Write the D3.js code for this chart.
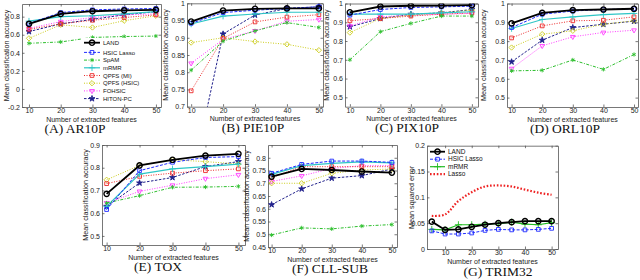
<!DOCTYPE html>
<html>
<head>
<meta charset="utf-8">
<script src="https://cdn.jsdelivr.net/npm/d3@7"></script>
<style>
  body { margin: 0; background: #fff; }
</style>
</head>
<body>
<div id="chart"></div>
<script>
// x values
const features = [10, 20, 30, 40, 50];
const trimFeatures = [5, 10, 15, 20, 25, 30, 35, 40, 45, 50];

const methods = ["LAND", "HSIC Lasso", "SpAM", "mRMR", "QPFS (MI)", "QPFS (HSIC)", "FOHSIC", "HITON-PC"];
const trimMethods = ["LAND", "HSIC Lasso", "mRMR", "Lasso"];

// mean classification accuracy, one row per method (same order as methods)
const ar10p = [
  [0.72, 0.83, 0.86, 0.87, 0.875],
  [0.725, 0.845, 0.875, 0.885, 0.89],
  [0.505, 0.52, 0.57, 0.58, 0.585],
  [0.75, 0.80, 0.81, 0.83, 0.855],
  [0.66, 0.72, 0.76, 0.79, 0.82],
  [0.56, 0.71, 0.68, 0.755, 0.81],
  [0.67, 0.745, 0.79, 0.82, 0.83],
  [0.635, 0.72, 0.77, 0.82, 0.855]
];
const pie10p = [
  [0.947, 0.979, 0.984, 0.985, 0.985],
  [0.942, 0.973, 0.98, 0.985, 0.99],
  [0.806, 0.89, 0.92, 0.944, 0.93],
  [0.94, 0.963, 0.969, 0.974, 0.974],
  [0.746, 0.898, 0.946, 0.96, 0.967],
  [0.886, 0.90, 0.889, 0.881, 0.864],
  [0.826, 0.895, 0.92, 0.948, 0.953],
  [0.48, 0.911, 0.966, 0.985, 0.99]
];
const pix10p = [
  [0.953, 0.984, 0.988, 0.989, 0.991],
  [0.938, 0.968, 0.979, 0.982, 0.986],
  [0.70, 0.85, 0.894, 0.933, 0.933],
  [0.943, 0.943, 0.943, 0.95, 0.956],
  [0.908, 0.92, 0.933, 0.943, 0.95],
  [0.845, 0.92, 0.938, 0.95, 0.965],
  [0.88, 0.929, 0.938, 0.943, 0.947],
  [0.876, 0.92, 0.943, 0.95, 0.968]
];
const orl10p = [
  [0.894, 0.95, 0.965, 0.968, 0.972],
  [0.872, 0.943, 0.96, 0.968, 0.972],
  [0.642, 0.645, 0.70, 0.65, 0.729],
  [0.867, 0.915, 0.929, 0.941, 0.947],
  [0.817, 0.881, 0.908, 0.911, 0.929],
  [0.766, 0.837, 0.855, 0.89, 0.908],
  [0.654, 0.775, 0.823, 0.846, 0.858],
  [0.69, 0.805, 0.872, 0.89, 0.906]
];
const tox = [
  [0.685, 0.81, 0.835, 0.853, 0.861],
  [0.616, 0.787, 0.824, 0.845, 0.849],
  [0.645, 0.677, 0.714, 0.715, 0.718],
  [0.63, 0.772, 0.795, 0.805, 0.816],
  [0.73, 0.762, 0.776, 0.787, 0.795],
  [0.747, 0.81, 0.835, 0.827, 0.816],
  [0.645, 0.696, 0.723, 0.752, 0.769],
  [0.63, 0.733, 0.757, 0.805, 0.827]
];
const cllSub = [
  [0.726, 0.756, 0.752, 0.746, 0.742],
  [0.739, 0.774, 0.787, 0.787, 0.782],
  [0.497, 0.525, 0.521, 0.532, 0.538],
  [0.735, 0.769, 0.778, 0.784, 0.78],
  [0.722, 0.765, 0.765, 0.765, 0.765],
  [0.70, 0.70, 0.739, 0.752, 0.756],
  [0.707, 0.729, 0.758, 0.769, 0.769],
  [0.616, 0.678, 0.72, 0.73, 0.756]
];
// mean squared error on TRIM32, one row per trimMethods entry
const trim32 = [
  [0.053, 0.037, 0.038, 0.043, 0.047, 0.05, 0.052, 0.054, 0.054, 0.054],
  [0.035, 0.029, 0.029, 0.031, 0.036, 0.038, 0.037, 0.037, 0.038, 0.04],
  [0.038, 0.037, 0.047, 0.047, 0.048, 0.049, 0.052, 0.048, 0.047, 0.051],
  [0.064, 0.067, 0.093, 0.11, 0.121, 0.123, 0.121, 0.115, 0.109, 0.105]
];

// tick labels
const xTicks = [10, 20, 30, 40, 50];
const arTicks = [-0.2, 0, 0.2, 0.4, 0.6, 0.8];
const pieTicks = [0.7, 0.75, 0.8, 0.85, 0.9, 0.95, 1];
const pixTicks = [0.5, 0.6, 0.7, 0.8, 0.9, 1];
const toxTicks = [0.5, 0.6, 0.7, 0.8, 0.9];
const cllTicks = [0.45, 0.5, 0.55, 0.6, 0.65, 0.7, 0.75, 0.8];
const trimTicks = [0, 0.05, 0.1, 0.15, 0.2];

// line styles per method name
const styles = {
  "LAND":        {color: "#000000", width: 1.8, dash: null,          sym: d3.symbolCircle,   fill: "none", size: 22},
  "HSIC Lasso":  {color: "#1f2bff", width: 1,   dash: "3,1.5",       sym: d3.symbolSquare,   fill: "none", size: 14},
  "SpAM":        {color: "#2dbf2d", width: 1,   dash: "3,1.5,1,1.5", sym: d3.symbolAsterisk, fill: "none", size: 12},
  "mRMR":        {color: "#2ec6c6", width: 1.2, dash: null,          sym: d3.symbolPlus,     fill: "none", size: 16},
  "QPFS (MI)":   {color: "#ec2a2a", width: 1,   dash: "1,1.5",       sym: d3.symbolSquare,   fill: "none", size: 14},
  "QPFS (HSIC)": {color: "#cccc1c", width: 1,   dash: "1,1.5",       sym: d3.symbolDiamond2, fill: "none", size: 18},
  "FOHSIC":      {color: "#ff3cff", width: 1,   dash: "1,1.5",       sym: d3.symbolTriangle2, fill: "none", size: 16, flip: true},
  "HITON-PC":    {color: "#22228c", width: 1,   dash: "2.5,1.5",     sym: d3.symbolStar,     fill: "#22228c", size: 11},
  "Lasso":       {color: "#ee2222", width: 2.2, dash: "1.6,1.8",     sym: null}
};
const trimStyles = {
  "mRMR": {color: "#22bb22", width: 1.2, dash: null, sym: d3.symbolPlus, fill: "none", size: 18}
};

const sansFont = "'Liberation Sans', Arial, sans-serif";
const serifFont = "'Liberation Serif', 'Times New Roman', serif";

const width = 640, height = 280;
const svg = d3.select("#chart").append("svg")
  .attr("width", width)
  .attr("height", height)
  .style("font-family", sansFont);

const panels = [
  {title: "(A) AR10P",   rows: ar10p,  names: methods, xs: features, left: 22,  right: 161, top: 4,     bottom: 107,   xDom: [7.8, 51.6], yDom: [-0.2, 0.94], yTicks: arTicks,  titleX: 75,  ylabX: 6,   ylab: "Mean classification accuracy", legend: true},
  {title: "(B) PIE10P",  rows: pie10p, names: methods, xs: features, left: 187, right: 323, top: 3.3,   bottom: 106.7, xDom: [8.7, 51.3], yDom: [0.7, 1],     yTicks: pieTicks, titleX: 253, ylabX: 165, ylab: "Mean classification accuracy"},
  {title: "(C) PIX10P",  rows: pix10p, names: methods, xs: features, left: 345, right: 478, top: 3.5,   bottom: 106.7, xDom: [8.4, 52],   yDom: [0.45, 1],    yTicks: pixTicks, titleX: 407, ylabX: 326, ylab: "Mean classification accuracy"},
  {title: "(D) ORL10P",  rows: orl10p, names: methods, xs: features, left: 507, right: 638, top: 3.5,   bottom: 107,   xDom: [8.5, 51.3], yDom: [0.45, 1],    yTicks: pixTicks, titleX: 565, ylabX: 483, ylab: "Mean classification accuracy"},
  {title: "(E) TOX",     rows: tox,    names: methods, xs: features, left: 102, right: 245, top: 145,   bottom: 245,   xDom: [8.6, 52],   yDom: [0.46, 0.9],  yTicks: toxTicks, titleX: 158, ylabX: 85,  ylab: "Mean classification accuracy"},
  {title: "(F) CLL-SUB", rows: cllSub, names: methods, xs: features, left: 268, right: 397, top: 145,   bottom: 247,   xDom: [8.8, 51.7], yDom: [0.45, 0.85], yTicks: cllTicks, titleX: 330, ylabX: 246, ylab: "Mean classification accuracy"},
  {title: "(G) TRIM32",  rows: trim32, names: trimMethods, xs: trimFeatures, left: 427, right: 558, top: 145.7, bottom: 249, xDom: [3.2, 52.4], yDom: [0, 0.2], yTicks: trimTicks, titleX: 498, ylabX: 411, ylab: "Mean squared error", legend: true, trim: true}
];

const fmt = d => String(+d.toFixed(2));

function styleFor(p, name) {
  if (p.trim && trimStyles[name]) return trimStyles[name];
  return styles[name];
}

function drawMarker(g, st, cx, cy) {
  if (!st.sym) return;
  g.append("path")
    .attr("d", d3.symbol().type(st.sym).size(st.size)())
    .attr("transform", `translate(${cx},${cy})` + (st.flip ? " rotate(180)" : ""))
    .attr("fill", st.fill)
    .attr("stroke", st.color)
    .attr("stroke-width", st.name === "LAND" ? 1.4 : 0.9);
}

panels.forEach((p, k) => {
  const g = svg.append("g");
  const x = d3.scaleLinear().domain(p.xDom).range([p.left, p.right]);
  const y = d3.scaleLinear().domain(p.yDom).range([p.bottom, p.top]);

  const clipId = "clip" + k;
  svg.append("clipPath").attr("id", clipId)
    .append("rect")
    .attr("x", p.left).attr("y", p.top)
    .attr("width", p.right - p.left).attr("height", p.bottom - p.top);

  // axes with inward ticks on all four sides
  const axisColor = "#555";
  const bottomAxis = g.append("g").attr("transform", `translate(0,${p.bottom})`)
    .call(d3.axisBottom(x).tickValues(xTicks).tickSizeInner(-2.5).tickSizeOuter(0).tickPadding(1.5).tickFormat(d3.format("d")));
  const topAxis = g.append("g").attr("transform", `translate(0,${p.top})`)
    .call(d3.axisTop(x).tickValues(xTicks).tickSizeInner(-2.5).tickSizeOuter(0).tickFormat(""));
  const leftAxis = g.append("g").attr("transform", `translate(${p.left},0)`)
    .call(d3.axisLeft(y).tickValues(p.yTicks).tickSizeInner(-2.5).tickSizeOuter(0).tickPadding(2).tickFormat(fmt));
  const rightAxis = g.append("g").attr("transform", `translate(${p.right},0)`)
    .call(d3.axisRight(y).tickValues(p.yTicks).tickSizeInner(-2.5).tickSizeOuter(0).tickFormat(""));
  [bottomAxis, topAxis, leftAxis, rightAxis].forEach(a => {
    a.attr("font-family", null);
    a.selectAll("path, line").attr("stroke", axisColor).attr("stroke-width", 0.8);
    a.selectAll("text").attr("font-size", 7).attr("fill", "#222").style("font-family", sansFont);
  });

  // series
  const plot = g.append("g").attr("clip-path", `url(#${clipId})`);
  const order = p.rows.map((r, i) => i).reverse();
  order.forEach(i => {
    const name = p.names[i];
    const st = Object.assign({name: name}, styleFor(p, name));
    const line = d3.line()
      .x((d, j) => x(p.xs[j]))
      .y(d => y(d))
      .curve(name === "Lasso" ? d3.curveCatmullRom : d3.curveLinear);
    plot.append("path")
      .datum(p.rows[i])
      .attr("d", line)
      .attr("fill", "none")
      .attr("stroke", st.color)
      .attr("stroke-width", st.width)
      .attr("stroke-dasharray", st.dash);
    p.rows[i].forEach((v, j) => {
      if (v >= p.yDom[0]) drawMarker(plot, st, x(p.xs[j]), y(v));
    });
  });

  // axis titles
  g.append("text")
    .attr("x", (p.left + p.right) / 2)
    .attr("y", p.bottom + 14.5)
    .attr("text-anchor", "middle")
    .attr("font-size", 7)
    .attr("fill", "#222")
    .text("Number of extracted features");
  g.append("text")
    .attr("transform", `translate(${p.ylabX},${(p.top + p.bottom) / 2}) rotate(-90)`)
    .attr("text-anchor", "middle")
    .attr("dy", "0.35em")
    .attr("font-size", 7.2)
    .attr("fill", "#222")
    .text(p.ylab);

  // panel caption
  g.append("text")
    .attr("x", p.titleX)
    .attr("y", p.bottom + (p.trim ? 26.5 : 25.5))
    .attr("text-anchor", "middle")
    .style("font-family", serifFont)
    .attr("font-size", 13.5)
    .attr("fill", "#111")
    .text(p.title);

  // legend
  if (p.legend) {
    const lg = g.append("g");
    let lx, ly, step, gap, fs, lw;
    if (!p.trim) {
      lx = 84; ly = 42.7; step = 7.7; gap = 2; fs = 6; lw = 16;
      lg.append("rect").attr("x", 81).attr("y", 38).attr("width", p.right - 81.5).attr("height", 65).attr("fill", "#fff");
    } else {
      lx = 430; ly = 151.7; step = 7.5; gap = 0; fs = 6.5; lw = 15;
    }
    p.names.forEach((name, i) => {
      const st = Object.assign({name: name}, styleFor(p, name));
      const yy = ly + i * step + (i > 0 ? gap : 0);
      lg.append("line")
        .attr("x1", lx).attr("x2", lx + lw)
        .attr("y1", yy).attr("y2", yy)
        .attr("stroke", st.color)
        .attr("stroke-width", st.width)
        .attr("stroke-dasharray", st.dash);
      drawMarker(lg, st, lx + lw / 2, yy);
      lg.append("text")
        .attr("x", lx + lw + 3)
        .attr("y", yy)
        .attr("dy", "0.35em")
        .attr("font-size", fs)
        .attr("fill", "#111")
        .text(name);
    });
  }
});
</script>
</body>
</html>
